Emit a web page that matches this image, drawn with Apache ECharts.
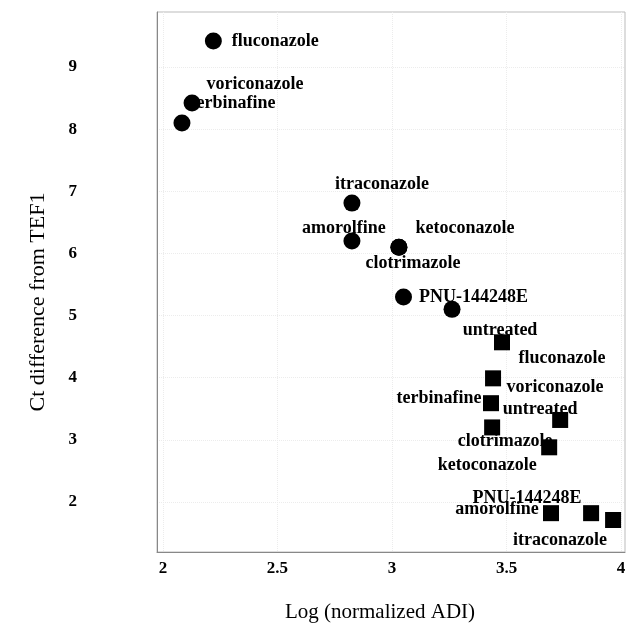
<!DOCTYPE html>
<html>
<head>
<meta charset="utf-8">
<script src="https://cdn.jsdelivr.net/npm/echarts@6/dist/echarts.min.js"></script>
<style>html,body{margin:0;padding:0;background:#fff}#c{width:631px;height:632px}</style>
</head>
<body>
<div id="c"></div>
<script>
// Circles (first group)
const circleNames = ['fluconazole','voriconazole','terbinafine','itraconazole','amorolfine','ketoconazole','clotrimazole','PNU-144248E','untreated'];
const circleX = [2.22, 2.127, 2.083, 2.825, 2.825, 3.03, 3.03, 3.05, 3.262];
const circleY = [9.42, 8.42, 8.10, 6.81, 6.20, 6.10, 6.10, 5.30, 5.10];
// Squares (second group)
const squareNames = ['fluconazole','voriconazole','terbinafine','clotrimazole','untreated','ketoconazole','amorolfine','PNU-144248E','itraconazole'];
const squareX = [3.48, 3.441, 3.432, 3.437, 3.734, 3.686, 3.694, 3.869, 3.965];
const squareY = [4.57, 3.99, 3.59, 3.20, 3.32, 2.88, 1.82, 1.82, 1.71];
// Tick labels
const xTicks = [2, 2.5, 3, 3.5, 4];
const yTicks = [2, 3, 4, 5, 6, 7, 8, 9];

// label offsets (pixels, style only)
const circleLabelOffsets = [[62,0],[63,-19],[51,-20],[30,-19],[-8,-13],[66,-19],[14,16],[70,0],[48,21]];
const squareLabelOffsets = [[60,16],[62,9],[-52,-5],[13,14],[-20,-11],[-62,18],[-54,-4],[-64,-15],[-53,20]];

const serif = '"Liberation Serif","DejaVu Serif",serif';
const labelStyle = {show:true, position:'inside', color:'#000', fontFamily:serif, fontWeight:'bold', fontSize:18,
  formatter: p => p.data.name};

function build(names, xs, ys, offs){
  return names.map((n,i)=>({name:n, value:[xs[i], ys[i]], label:Object.assign({}, labelStyle, {offset:offs[i]})}));
}

const chart = echarts.init(document.getElementById('c'), null, {renderer:'canvas'});
chart.setOption({
  animation:false,
  backgroundColor:'#fff',
  grid:{left:157, right:6, top:12, bottom:80, show:true, borderColor:'#bbb', borderWidth:1},
  xAxis:{type:'value', min:1.974, max:4.017,
    name:'Log (normalized ADI)', nameLocation:'middle', nameGap:50,
    nameTextStyle:{fontFamily:serif, fontSize:21, color:'#000', padding:[0,22,0,0]},
    axisLine:{show:true, lineStyle:{color:'#888'}},
    axisTick:{show:false, customValues:xTicks},
    splitLine:{show:true, lineStyle:{color:'#ececec', type:'dotted'}},
    axisLabel:{customValues:xTicks, margin:8, fontFamily:serif, fontWeight:'bold', fontSize:17, color:'#000',
      formatter:v=>String(v)}},
  yAxis:{type:'value', min:1.195, max:9.886,
    name:'Ct difference from TEF1', nameLocation:'middle', nameGap:108,
    nameTextStyle:{fontFamily:serif, fontSize:22, color:'#000', padding:[0,40,0,0]},
    axisLine:{show:true, lineStyle:{color:'#888'}},
    axisTick:{show:false, customValues:yTicks},
    splitLine:{show:true, lineStyle:{color:'#ececec', type:'dotted'}},
    axisLabel:{customValues:yTicks, margin:80, fontFamily:serif, fontWeight:'bold', fontSize:17, color:'#000',
      formatter:v=>String(v)}},
  series:[
    {type:'scatter', symbol:'circle', symbolSize:17, itemStyle:{color:'#000', opacity:1},
     data:build(circleNames, circleX, circleY, circleLabelOffsets)},
    {type:'scatter', symbol:'rect', symbolSize:16, itemStyle:{color:'#000', opacity:1},
     data:build(squareNames, squareX, squareY, squareLabelOffsets)}
  ]
});
</script>
</body>
</html>
